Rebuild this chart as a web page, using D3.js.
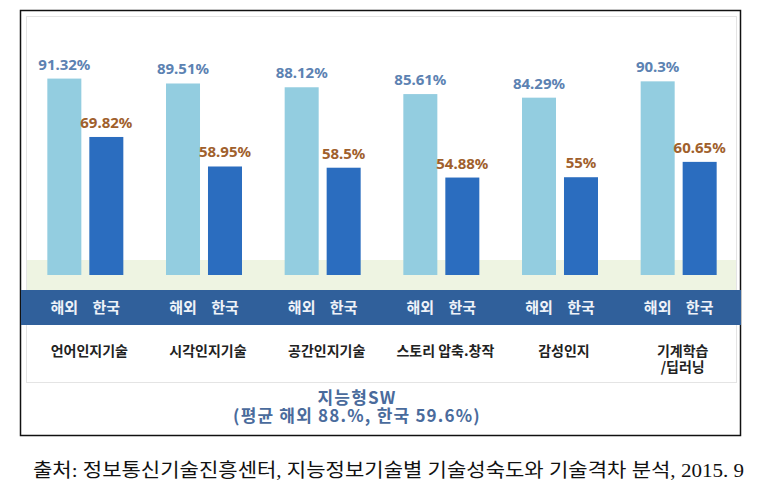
<!DOCTYPE html>
<html><head><meta charset="utf-8">
<script src="https://cdn.jsdelivr.net/npm/d3@7"></script>
<style>html,body{margin:0;padding:0;background:#fff;}svg{display:block;}</style>
</head><body>
<svg id="chart" width="777" height="493"></svg>
<script>
const categories = ["언어인지기술", "시각인지기술", "공간인지기술", "스토리 압축.창작", "감성인지", "기계학습\n/딥러닝"];
const seriesNames = ["해외", "한국"];
const overseas = [91.32, 89.51, 88.12, 85.61, 84.29, 90.3];
const korea = [69.82, 58.95, 58.5, 54.88, 55, 60.65];
const titleLines = ["지능형SW", "(평균 해외 88.%, 한국 59.6%)"];
const sourceText = "출처: 정보통신기술진흥센터, 지능정보기술별 기술성숙도와 기술격차 분석, 2015. 9";

const data = categories.map((c, i) => ({cat: c, values: [
  {key: seriesNames[0], v: overseas[i]},
  {key: seriesNames[1], v: korea[i]}
]}));

const svg = d3.select("#chart");
const kfont = "'Noto Sans CJK KR', 'Noto Sans', sans-serif";
const nfont = "'Noto Sans', 'Open Sans', sans-serif";

// outer frame
svg.append("rect").attr("x", 20.5).attr("y", 10.5).attr("width", 720).attr("height", 425)
  .attr("fill", "#fff").attr("stroke", "#111").attr("stroke-width", 1.5);
// inner dotted frame
svg.append("rect").attr("x", 26.5).attr("y", 16.5).attr("width", 710).attr("height", 366)
  .attr("fill", "none").attr("stroke", "#c8c8c8").attr("stroke-width", 1).attr("stroke-dasharray", "1,1");

// green floor band
svg.append("rect").attr("x", 27).attr("y", 260).attr("width", 709).attr("height", 30).attr("fill", "#eef4e2");
// dark band
svg.append("rect").attr("x", 21).attr("y", 290).attr("width", 720).attr("height", 35).attr("fill", "#30609b");

const x0 = d3.scaleBand().domain(categories).range([26, 738]).padding(0);
const pair = 76;
const x1 = d3.scaleBand().domain(seriesNames)
  .range([(x0.bandwidth() - pair) / 2, (x0.bandwidth() + pair) / 2]).paddingInner(0.19);
const y = d3.scaleLinear().domain([19, 100]).range([275, 55]);
const color = d3.scaleOrdinal().domain(seriesNames).range(["#93cde0", "#2b6dbf"]);
const labelColor = d3.scaleOrdinal().domain(seriesNames).range(["#5c82b2", "#a0602c"]);

const g = svg.selectAll("g.grp").data(data).join("g").attr("class", "grp")
  .attr("transform", d => `translate(${x0(d.cat)},0)`);

g.selectAll("rect.bar").data(d => d.values).join("rect").attr("class", "bar")
  .attr("x", d => x1(d.key)).attr("width", x1.bandwidth())
  .attr("y", d => y(d.v)).attr("height", d => y(y.domain()[0]) - y(d.v))
  .attr("fill", d => color(d.key));

g.selectAll("text.val").data(d => d.values).join("text").attr("class", "val")
  .attr("x", d => x1(d.key) + x1.bandwidth() / 2).attr("y", d => y(d.v) - 9)
  .attr("text-anchor", "middle").attr("font-family", nfont).attr("font-weight", "bold")
  .attr("font-size", 15).attr("fill", d => labelColor(d.key))
  .text(d => d.v + "%");

g.selectAll("text.ser").data(d => d.values).join("text").attr("class", "ser")
  .attr("x", d => x1(d.key) + x1.bandwidth() / 2).attr("y", 313)
  .attr("text-anchor", "middle").attr("font-family", kfont).attr("font-weight", "bold")
  .attr("font-size", 15).attr("fill", "#eef2f8")
  .text(d => d.key);

// category labels
g.append("text").attr("text-anchor", "middle").attr("font-family", kfont).attr("font-weight", "bold")
  .attr("font-size", 14).attr("fill", "#222")
  .selectAll("tspan").data(d => d.cat.split("\n")).join("tspan")
  .attr("x", x0.bandwidth() / 2 + 4).attr("y", (d, i) => 356 + i * 16)
  .text(d => d);

// title
svg.selectAll("text.title").data(titleLines).join("text").attr("class", "title")
  .attr("x", 357).attr("y", (d, i) => 404 + i * 18)
  .attr("text-anchor", "middle").attr("font-family", kfont).attr("font-weight", "bold")
  .attr("font-size", 17).attr("letter-spacing", 1.2).attr("fill", "#4a6b9c")
  .text(d => d);

// source
svg.append("text").attr("x", 33).attr("y", 477)
  .attr("font-family", "'Liberation Serif', 'Noto Sans CJK KR', serif").attr("font-size", 19)
  .attr("fill", "#111").attr("textLength", 711).attr("lengthAdjust", "spacingAndGlyphs")
  .text(sourceText);
</script>
</body></html>
